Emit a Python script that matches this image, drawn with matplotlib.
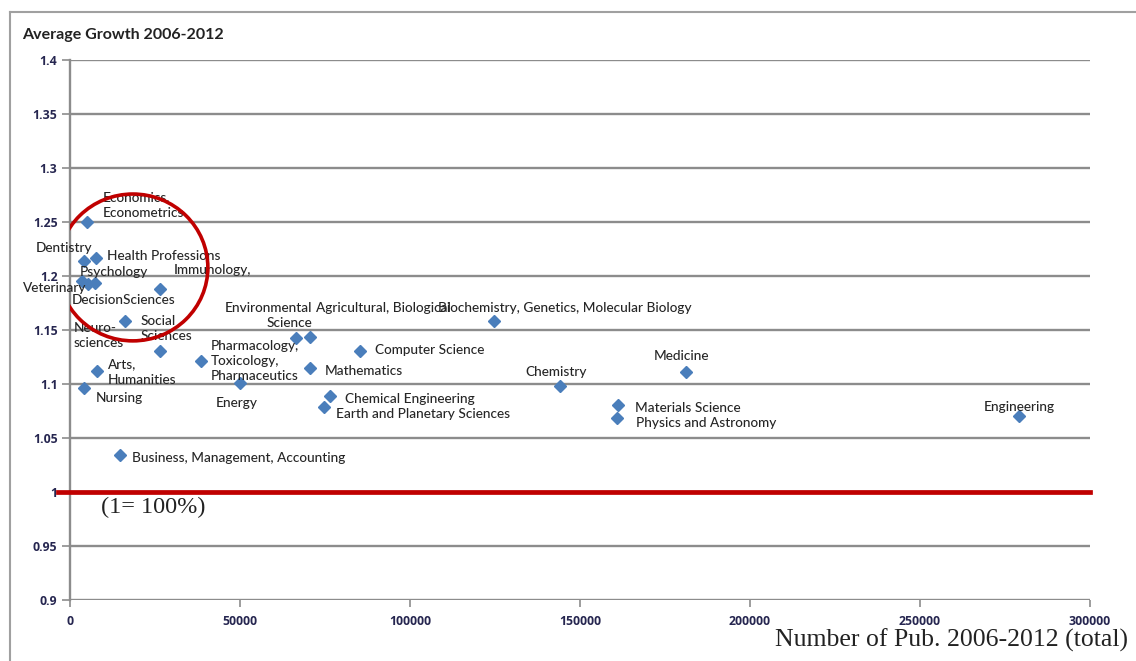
import matplotlib.pyplot as plt
from matplotlib.patches import Ellipse
from matplotlib.lines import Line2D

# publications 2006-2012 (total) and average growth per field
fields = ["Economics,\nEconometrics", "Dentistry", "Health Professions", "Veterinary",
          "Psychology", "DecisionSciences", "Immunology,", "Neuro-\nsciences",
          "Social\nSciences", "Arts,\nHumanities", "Nursing",
          "Pharmacology,\nToxicology,\nPharmaceutics", "Energy", "Environmental\nScience",
          "Agricultural, Biological", "Mathematics", "Computer Science",
          "Chemical Engineering", "Earth and Planetary Sciences",
          "Biochemistry, Genetics, Molecular Biology", "Chemistry", "Medicine",
          "Materials Science", "Physics and Astronomy", "Engineering",
          "Business, Management, Accounting"]
pubs = [5000, 4100, 7600, 3500, 5300, 7400, 26500, 16200, 26500, 7900, 4100,
        38500, 50000, 66500, 70600, 70600, 85300, 76500, 74700,
        124700, 144100, 181200, 161200, 160900, 279100, 14700]
growth = [1.250, 1.214, 1.217, 1.195, 1.193, 1.194, 1.188, 1.158, 1.131, 1.112, 1.096,
          1.121, 1.101, 1.143, 1.144, 1.115, 1.131, 1.089, 1.079,
          1.158, 1.098, 1.111, 1.081, 1.069, 1.070, 1.034]

# label offsets in pixels (dx, dy, horizontal alignment)
offsets = [(16, 17, 'left'), (-20, 13, 'center'), (11, 2, 'left'), (-59, -7, 'left'),
           (-8, 12, 'left'), (-23, -17, 'left'), (14, 19, 'left'), (-51, -14, 'left'),
           (-20, 22, 'left'), (11, -1, 'left'), (12, -10, 'left'),
           (10, 0, 'left'), (-24, -20, 'left'), (16, 22, 'right'),
           (6, 29, 'left'), (15, -3, 'left'), (15, 1, 'left'),
           (15, -3, 'left'), (12, -7, 'left'),
           (-56, 13, 'left'), (-35, 14, 'left'), (-32, 16, 'left'),
           (17, -3, 'left'), (19, -5, 'left'), (-35, 9, 'left'),
           (12, -3, 'left')]

fig = plt.figure(figsize=(11.36, 6.61), dpi=100)
ax = fig.add_axes([0.0616, 0.0923, 0.8979, 0.8167])

grid_c = '#8c8c8c'
tick_c = '#262650'

ax.set_xlim(0, 300000)
ax.set_ylim(0.9, 1.4)
ax.set_yticks([0.9 + 0.05 * i for i in range(11)])
ax.set_yticklabels(['0.9', '0.95', '1', '1.05', '1.1', '1.15', '1.2', '1.25', '1.3', '1.35', '1.4'],
                   fontweight='bold', family='Open Sans')
ax.set_xticks(range(0, 300001, 50000))
ax.set_xticklabels([str(v) for v in range(0, 300001, 50000)],
                   fontweight='bold', family='Open Sans')
ax.grid(axis='y', color=grid_c, lw=1.7)
ax.set_axisbelow(True)
for s in ['top', 'right', 'bottom']:
    ax.spines[s].set_visible(False)
ax.spines['left'].set_color(grid_c)
ax.spines['left'].set_linewidth(1.7)
ax.tick_params(axis='y', length=6, width=1.2, color=grid_c, labelsize=8.8, labelcolor=tick_c, pad=3)
ax.tick_params(axis='x', length=5, width=1.2, color=grid_c, labelsize=8.8, labelcolor=tick_c, pad=6)

ax.plot(pubs, growth, 'D', color='#4a7ebb', ms=6.5, zorder=3)

for name, x, y, (dx, dy, ha) in zip(fields, pubs, growth, offsets):
    ax.annotate(name, (x, y), xytext=(dx, dy), textcoords='offset pixels',
                ha=ha, va='center', fontsize=9.8, family='Lato', color='#262626',
                fontweight='medium',
                multialignment=ha if ha != 'center' else 'center', linespacing=1.3)

# 100% reference line
ax.add_line(Line2D([-3500, 300000], [1.0, 1.0], color='#c00000', lw=3.4,
                   clip_on=False, zorder=4))
ax.text(9000, 0.986, '(1= 100%)', family='Liberation Serif', fontsize=17.5,
        va='center', ha='left', color='#222222')

# highlight circle
ax.add_patch(Ellipse((18500, 1.208), 44100, 0.136, fill=False, ec='#c00000', lw=2.6, zorder=5))

fig.text(22 / 1136, 1 - 35 / 661, 'Average Growth 2006-2012', fontsize=11.5, family='Lato',
         fontweight='bold', color='#222222', va='center', ha='left')
fig.text(1128 / 1136, 1 - 640 / 661, 'Number of Pub. 2006-2012 (total)',
         family='Liberation Serif', fontsize=18.5, color='#222222', va='center', ha='right')

# chart frame
fig.add_artist(Line2D([10 / 1136, 10 / 1136], [0, 1 - 12 / 661], color='#a0a0a0', lw=1.5))
fig.add_artist(Line2D([10 / 1136, 1], [1 - 12 / 661, 1 - 12 / 661], color='#a0a0a0', lw=1.5))

fig.savefig('out.png', dpi=100)
